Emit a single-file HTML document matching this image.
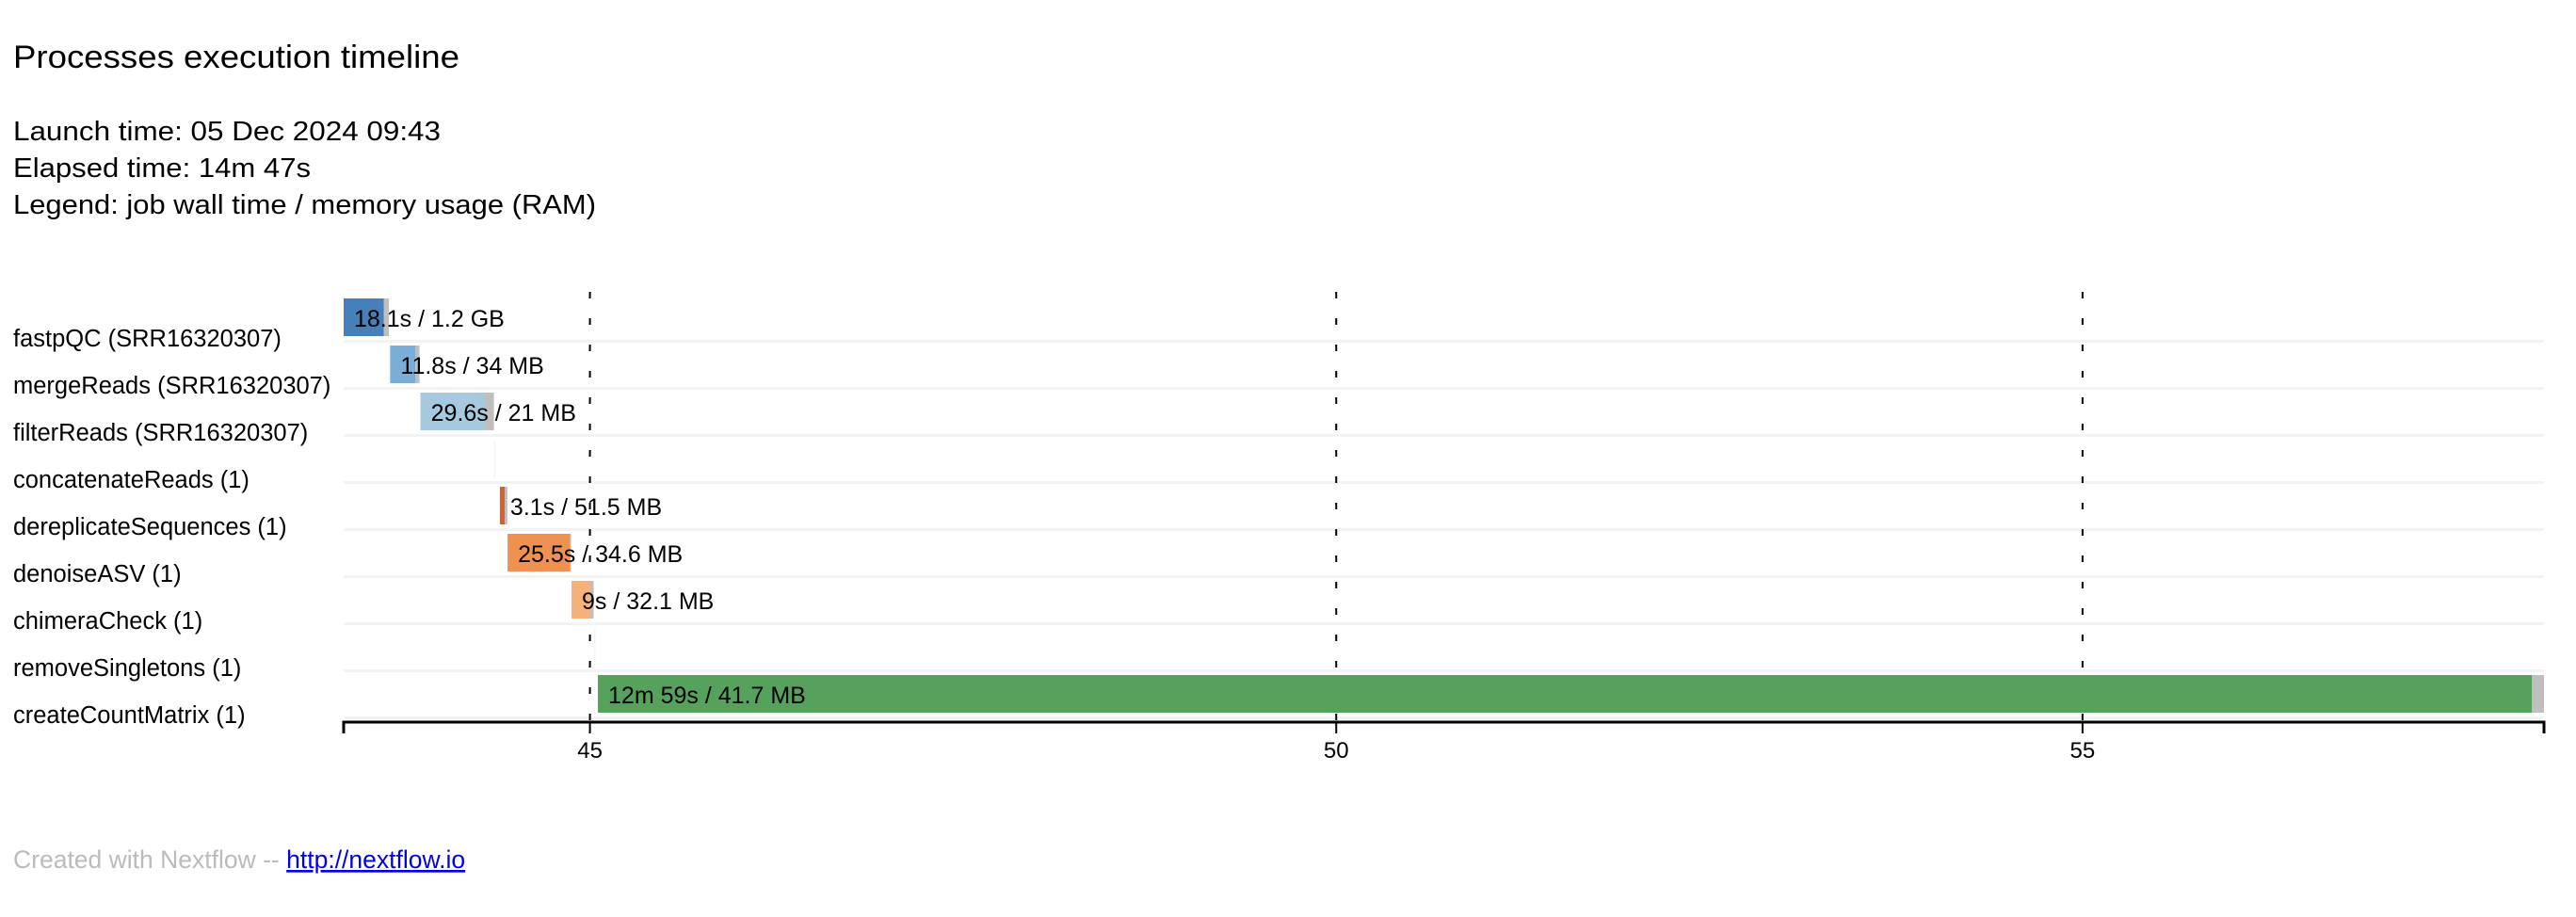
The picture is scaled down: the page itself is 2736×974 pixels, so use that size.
<!DOCTYPE html>
<html><head><meta charset="utf-8"><style>
html,body{margin:0;padding:0;background:#fff;}
svg{display:block;font-family:"Liberation Sans",sans-serif;}
</style></head><body>
<svg id="chart" width="2736" height="974" viewBox="0 0 2736 974" xmlns="http://www.w3.org/2000/svg">
<text x="14" y="72" font-size="34" textLength="474" lengthAdjust="spacingAndGlyphs">Processes execution timeline</text>
<text x="14" y="149" font-size="29" textLength="454" lengthAdjust="spacingAndGlyphs">Launch time: 05 Dec 2024 09:43</text>
<text x="14" y="188" font-size="29" textLength="316" lengthAdjust="spacingAndGlyphs">Elapsed time: 14m 47s</text>
<text x="14" y="227" font-size="29" textLength="619" lengthAdjust="spacingAndGlyphs">Legend: job wall time / memory usage (RAM)</text>
<g id="plot"></g>
<text x="14" y="922" font-size="26.5" fill="#bbbbbb">Created with Nextflow -- <tspan fill="#0000ee" text-decoration="underline">http://nextflow.io</tspan></text>
</svg>
<script>
const processes = ["fastpQC (SRR16320307)","mergeReads (SRR16320307)","filterReads (SRR16320307)","concatenateReads (1)","dereplicateSequences (1)","denoiseASV (1)","chimeraCheck (1)","removeSingletons (1)","createCountMatrix (1)"];
const startSec = [0, 18.7, 30.9, 60.5, 62.8, 65.9, 91.6, 100.8, 102.2];
const runEndSec = [16.1, 28.8, 57.0, 60.6, 64.7, 90.9, 99.4, 100.9, 879.6];
const totalEndSec = [18.2, 30.5, 60.4, 60.9, 65.8, 91.4, 100.5, 101.1, 884.5];
const barLabels = ["18.1s / 1.2 GB","11.8s / 34 MB","29.6s / 21 MB","","3.1s / 51.5 MB","25.5s / 34.6 MB","9s / 32.1 MB","","12m 59s / 41.7 MB"];
const barColors = ["#477fb9","#7aaed6","#a6c9e0","#f4f4f4","#d95f2b","#ef9150","#f4b27a","#f4f4f4","#56a15b"];
const tickMinutes = [45, 50, 55];
const originMinute = 43.35;
const domainEndSec = 884.5;

const NS = "http://www.w3.org/2000/svg";
const plot = document.getElementById("plot");
const X0 = 365, X1 = 2702;
function xs(sec){ return X0 + sec / domainEndSec * (X1 - X0); }
function xm(min){ return xs((min - originMinute) * 60); }
function rowTop(i){ return 317 + i * 50; }
function mk(tag, attrs){ const e = document.createElementNS(NS, tag); for (const k in attrs) e.setAttribute(k, attrs[k]); plot.appendChild(e); return e; }

processes.forEach((p, i) => {
  const sep = mk("rect", {x: X0, y: rowTop(i) + 44, width: X1 - X0, height: 3, fill: "#f3f3f3"});
  
  
  const lab = mk("text", {x: 14, y: rowTop(i) + 51, "font-size": 25.5, fill: "#000"});
  lab.textContent = p;
  
  
});

tickMinutes.forEach(m => {
  const g = mk("line", {x1: xm(m), x2: xm(m), y1: 310, y2: 767, stroke: "#000", "stroke-width": 2, "stroke-dasharray": "7,21"});
  
  
});

processes.forEach((p, i) => {
  const y = rowTop(i);
  const isEmpty = !barLabels[i];
  const gray = mk("rect", {x: xs(startSec[i]), y: y, width: Math.max(1, xs(totalEndSec[i]) - xs(startSec[i])), height: 40, fill: isEmpty ? "#f4f4f4" : "#bfbfbf"});
  
  
  const run = mk("rect", {x: xs(startSec[i]), y: y, width: Math.max(1, xs(runEndSec[i]) - xs(startSec[i])), height: 40, fill: barColors[i]});
  
  
  if (barLabels[i]) {
    const t = mk("text", {x: xs(startSec[i]) + 11, y: y + 30, "font-size": 25, fill: "#000"});
    t.textContent = barLabels[i];
    
    
  }
});

const axis = mk("path", {d: `M${X0},779V767H${X1}V779`, fill: "none", stroke: "#000", "stroke-width": 3});


tickMinutes.forEach(m => {
  const tk = mk("line", {x1: xm(m), x2: xm(m), y1: 767, y2: 779, stroke: "#000", "stroke-width": 2});
  
  
  const tl = mk("text", {x: xm(m), y: 805, "font-size": 24, "text-anchor": "middle", fill: "#000"});
  tl.textContent = String(m);
  
  
});
</script>
</body></html>
